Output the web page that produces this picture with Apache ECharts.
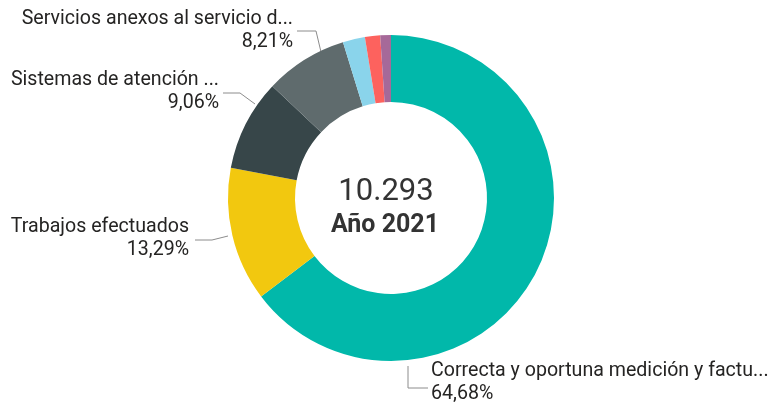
<!DOCTYPE html>
<html>
<head>
<meta charset="utf-8">
<script src="https://cdn.jsdelivr.net/npm/echarts@6/dist/echarts.min.js"></script>
<style>
  html, body { margin: 0; padding: 0; background: #fff; }
  #chart { width: 769px; height: 404px; }
</style>
</head>
<body>
<div id="chart"></div>
<script>
// categorías y valores (total 10.293, año 2021)
const categories = [
  'Correcta y oportuna medición y factu...',
  'Trabajos efectuados',
  'Sistemas de atención ...',
  'Servicios anexos al servicio d...',
  'Otros 1',
  'Otros 2',
  'Otros 3'
];
const values = [6657, 1368, 933, 845, 226, 155, 109];
const colors = ['#01B8AA', '#F2C80F', '#374649', '#5F6B6D', '#8AD4EB', '#FD625E', '#A66999'];
const shownLabels = [0, 1, 2, 3];

const total = values.reduce((a, b) => a + b, 0);

// posición de etiquetas (estilo Power BI)
const labelLayoutCfg = {
  0: { x: 431, y: 383, align: 'left', line: [[408, 366], [408, 388], [428, 388]] },
  1: { x: 189, y: 239, align: 'right', line: [[228, 236], [212, 240], [195, 240]] },
  2: { x: 219, y: 91.5, align: 'right', line: [[255, 104], [240, 93], [223, 93]] },
  3: { x: 293, y: 30.5, align: 'right', line: [[321, 52], [316, 31], [297, 31]] }
};

const chart = echarts.init(document.getElementById('chart'));

const fmtPct = (v) => (v / total * 100).toFixed(2).replace('.', ',') + '%';
const fmtTotal = (v) => v.toString().replace(/\B(?=(\d{3})+(?!\d))/g, '.');

const data = categories.map((name, i) => ({
  name,
  value: values[i],
  itemStyle: { color: colors[i] },
  label: { show: shownLabels.includes(i) },
  labelLine: { show: shownLabels.includes(i) }
}));

chart.setOption({
  animation: false,
  series: [{
    type: 'pie',
    center: [391, 198],
    radius: [96, 163],
    startAngle: 90,
    clockwise: true,
    data,
    label: {
      position: 'outside',
      overflow: 'none',
      formatter: (p) => `{n|${p.name}}\n{v|${fmtPct(p.value)}}`,
      rich: {
        n: { fontFamily: 'Roboto', fontSize: 19.6, color: '#252423', lineHeight: 23 },
        v: { fontFamily: 'Roboto', fontSize: 19.6, color: '#252423', lineHeight: 23 }
      }
    },
    labelLine: {
      lineStyle: { color: '#8c8c8c', width: 1 }
    },
    labelLayout: (params) => {
      const cfg = labelLayoutCfg[params.dataIndex];
      if (!cfg) return {};
      return {
        x: cfg.x,
        y: cfg.y,
        align: cfg.align,
        verticalAlign: 'middle',
        labelLinePoints: cfg.line
      };
    }
  }],
  graphic: [
    {
      type: 'text',
      x: 386, y: 192,
      style: {
        text: fmtTotal(total),
        fontFamily: 'Roboto', fontSize: 31, fill: '#333',
        align: 'center', verticalAlign: 'middle'
      }
    },
    {
      type: 'text',
      x: 385, y: 226,
      style: {
        text: 'Año 2021',
        fontFamily: 'Roboto', fontSize: 25, fontWeight: 'bold', fill: '#333',
        align: 'center', verticalAlign: 'middle'
      }
    }
  ]
});
</script>
</body>
</html>
